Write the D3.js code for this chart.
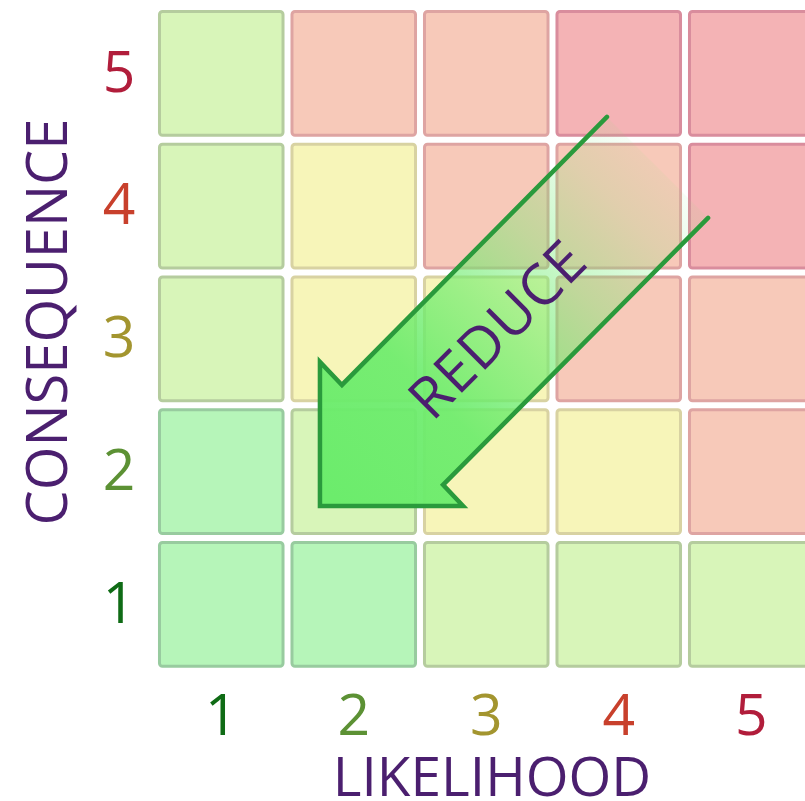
<!DOCTYPE html>
<html>
<head>
<meta charset="utf-8">
<script src="https://cdn.jsdelivr.net/npm/d3@7"></script>
<style>
  html, body { margin: 0; padding: 0; background: #ffffff; }
  svg { display: block; }
</style>
</head>
<body>
<svg id="chart" width="805" height="801"></svg>
<script>
// ---- Data ----
const likelihood = [1, 2, 3, 4, 5];
const consequence = [5, 4, 3, 2, 1];
// risk class per cell, rows from consequence 5 (top) to 1 (bottom), columns likelihood 1..5
const rowC5 = ["low", "high", "high", "extreme", "extreme"];
const rowC4 = ["low", "medium", "high", "high", "extreme"];
const rowC3 = ["low", "medium", "medium", "high", "high"];
const rowC2 = ["negligible", "low", "medium", "medium", "high"];
const rowC1 = ["negligible", "negligible", "low", "low", "low"];
const riskRows = [rowC5, rowC4, rowC3, rowC2, rowC1];
const tickLabels = ["1", "2", "3", "4", "5"];
const xTitle = "LIKELIHOOD";
const yTitle = "CONSEQUENCE";
const arrowLabel = "REDUCE";

// ---- Styles ----
const fillColor = {
  negligible: "#b6f5b9",
  low: "#d8f5b9",
  medium: "#f7f5b9",
  high: "#f7c9b9",
  extreme: "#f4b3b5"
};
const strokeColor = {
  negligible: "#98cb9f",
  low: "#b5cc9e",
  medium: "#d8d2a2",
  high: "#dea4a2",
  extreme: "#d98d9d"
};
const levelColor = { 1: "#0f6b15", 2: "#5c9134", 3: "#a3952f", 4: "#c8402c", 5: "#b11d3b" };
const purple = "#4b1f6f";
const font = "'Open Sans', 'Noto Sans', sans-serif";

const svg = d3.select("#chart");

const x = d3.scaleBand().domain(likelihood).range([155, 817.5]).paddingInner(0.045).paddingOuter(0.0225);
const y = d3.scaleBand().domain(consequence).range([7, 670.75]).paddingInner(0.045).paddingOuter(0.0225);

const cells = [];
consequence.forEach((c, ri) => {
  likelihood.forEach((l, ci) => {
    cells.push({ c, l, risk: riskRows[ri][ci] });
  });
});

const sw = 3;
svg.append("g").selectAll("rect").data(cells).join("rect")
  .attr("x", d => x(d.l) + sw / 2)
  .attr("y", d => y(d.c) + sw / 2)
  .attr("width", x.bandwidth() - sw)
  .attr("height", y.bandwidth() - sw)
  .attr("rx", 3)
  .attr("fill", d => fillColor[d.risk])
  .attr("stroke", d => strokeColor[d.risk])
  .attr("stroke-width", sw);

// ---- Axes ----
const yAxis = svg.append("g").attr("transform", "translate(119,0)")
  .call(d3.axisLeft(y).tickSize(0).tickPadding(0).tickFormat(d => tickLabels[d - 1]));
yAxis.select(".domain").remove();
yAxis.selectAll("text")
  .attr("text-anchor", "middle").attr("x", 0)
  .attr("font-family", font).attr("font-size", 57)
  .attr("fill", d => levelColor[d]);

const xAxis = svg.append("g").attr("transform", "translate(0,695)")
  .call(d3.axisBottom(x).tickSize(0).tickPadding(0).tickFormat(d => tickLabels[d - 1]));
xAxis.select(".domain").remove();
xAxis.selectAll("text")
  .attr("font-family", font).attr("font-size", 57)
  .attr("fill", d => levelColor[d]);

svg.append("text")
  .attr("x", 492).attr("y", 796)
  .attr("text-anchor", "middle")
  .attr("font-family", font).attr("font-size", 55)
  .attr("fill", purple)
  .text(xTitle);

svg.append("text")
  .attr("transform", "translate(67,322) rotate(-90)")
  .attr("text-anchor", "middle")
  .attr("font-family", font).attr("font-size", 56)
  .attr("fill", purple)
  .text(yTitle);

// ---- Arrow ----
const defs = svg.append("defs");

// arrow geometry expressed in grid space: (likelihood, consequence) coordinates
const ax = d3.scaleLinear().domain([0.5, 5.5]).range([x(1) - 3, x(5) + x.bandwidth() + 3]);
const ay = d3.scaleLinear().domain([0.5, 5.5]).range([y(1) + y.bandwidth() + 3, y(5) - 3]);
const arrowPts = [
  [3.911, 4.672], [1.911, 2.653], [1.745, 2.826], [1.745, 1.741], [2.825, 1.741], [2.674, 1.900], [4.674, 3.911]
];
const labelPos = [3.081, 3.075];
const pts = arrowPts.map(([l, c]) => [ax(l), ay(c)]);

const grad = defs.append("linearGradient").attr("id", "arrowGrad")
  .attr("gradientUnits", "userSpaceOnUse")
  .attr("x1", ax(1.83)).attr("y1", ay(1.82)).attr("x2", ax(4.35)).attr("y2", ay(4.35));
[[0, 1], [0.3, 0.92], [0.5, 0.65], [0.68, 0.38], [0.86, 0.16], [1, 0.04]].forEach(([o, a]) => {
  grad.append("stop").attr("offset", o).attr("stop-color", "#6cec6c").attr("stop-opacity", a);
});

svg.append("path")
  .attr("d", "M" + pts.map(p => p.join(",")).join("L") + "Z")
  .attr("fill", "url(#arrowGrad)")
  .attr("stroke", "none");
svg.append("path")
  .attr("d", d3.line()(pts))
  .attr("fill", "none")
  .attr("stroke", "#2a9a3c")
  .attr("stroke-width", 4.5)
  .attr("stroke-linecap", "round")
  .attr("stroke-linejoin", "miter");

svg.append("text")
  .attr("transform", `translate(${ax(labelPos[0])},${ay(labelPos[1])}) rotate(-45)`)
  .attr("text-anchor", "middle")
  .attr("dy", "0.36em")
  .attr("font-family", font).attr("font-size", 57)
  .attr("letter-spacing", 1)
  .attr("fill", purple)
  .text(arrowLabel);
</script>
</body>
</html>
